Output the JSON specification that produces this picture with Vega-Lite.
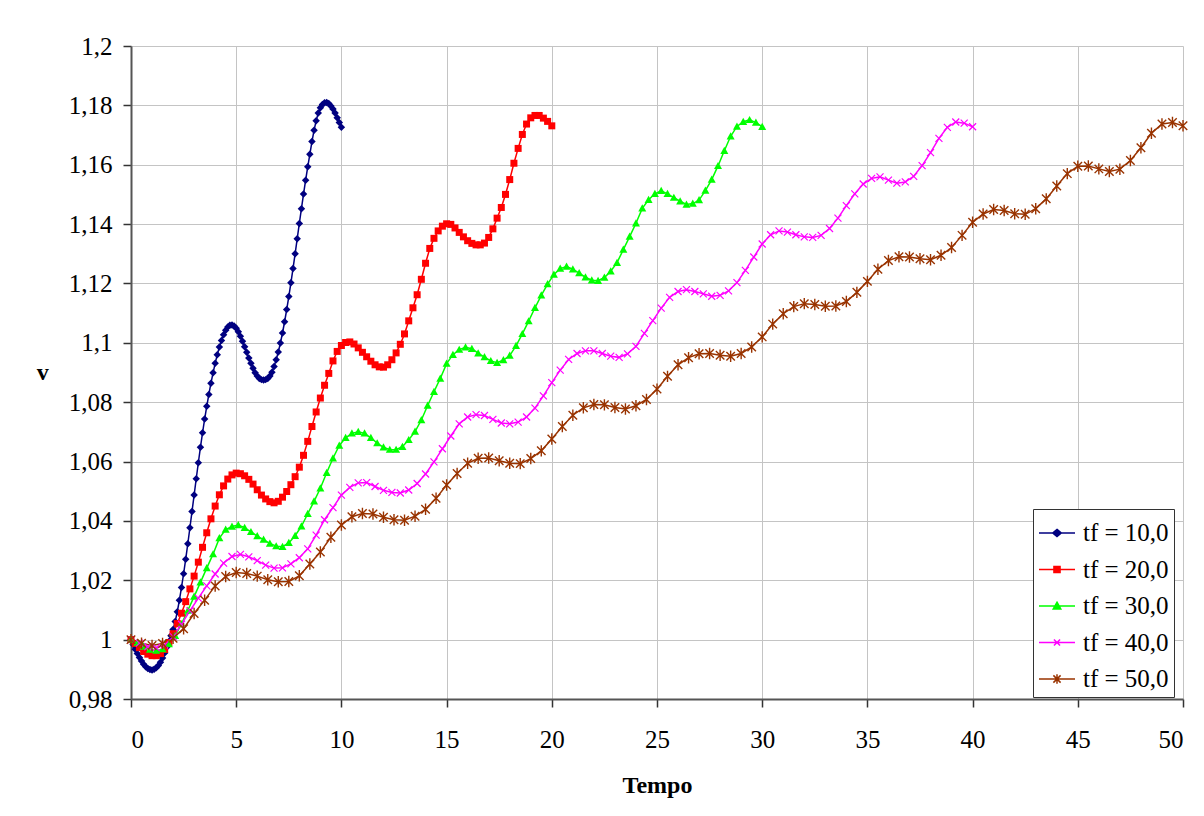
{
  "$schema": "https://vega.github.io/schema/vega-lite/v6.json",
  "width": 1052,
  "height": 653,
  "autosize": {"type": "none"},
  "padding": {"left": 131, "top": 46, "right": 21, "bottom": 117},
  "background": "white",
  "config": {
    "view": {"stroke": null},
    "font": "Liberation Serif",
    "axis": {
      "domainColor": "#555555", "domainWidth": 2, "tickColor": "#333333", "tickSize": 8, "tickWidth": 1.5,
      "gridColor": "#c4c4c4", "gridWidth": 1, "labelFont": "Liberation Serif", "labelFontSize": 25, "labelColor": "black",
      "titleFont": "Liberation Serif", "titleFontSize": 24, "titleFontWeight": "bold", "titleColor": "black"
    },
    "axisX": {"labelPadding": 20, "titlePadding": 21},
    "axisY": {"labelPadding": 11, "titlePadding": 20, "titleAngle": 0, "titleAlign": "right", "titleBaseline": "middle"}
  },
  "data": {
    "values": [
      {"k":10,"t":0,"v":1.0000},{"k":10,"t":0.1,"v":0.9984},{"k":10,"t":0.2,"v":0.9968},{"k":10,"t":0.3,"v":0.9953},{"k":10,"t":0.4,"v":0.9940},
      {"k":10,"t":0.5,"v":0.9928},{"k":10,"t":0.6,"v":0.9917},{"k":10,"t":0.7,"v":0.9909},{"k":10,"t":0.8,"v":0.9903},{"k":10,"t":0.9,"v":0.9899},
      {"k":10,"t":1.0,"v":0.9898},{"k":10,"t":1.1,"v":0.9900},{"k":10,"t":1.2,"v":0.9905},{"k":10,"t":1.3,"v":0.9913},{"k":10,"t":1.4,"v":0.9924},
      {"k":10,"t":1.5,"v":0.9938},{"k":10,"t":1.6,"v":0.9955},{"k":10,"t":1.7,"v":0.9974},{"k":10,"t":1.8,"v":0.9994},{"k":10,"t":1.9,"v":1.0013},
      {"k":10,"t":2.0,"v":1.0034},{"k":10,"t":2.1,"v":1.0061},{"k":10,"t":2.2,"v":1.0094},{"k":10,"t":2.3,"v":1.0133},{"k":10,"t":2.4,"v":1.0176},
      {"k":10,"t":2.5,"v":1.0222},{"k":10,"t":2.6,"v":1.0271},{"k":10,"t":2.7,"v":1.0323},{"k":10,"t":2.8,"v":1.0377},{"k":10,"t":2.9,"v":1.0432},
      {"k":10,"t":3.0,"v":1.0487},{"k":10,"t":3.1,"v":1.0542},{"k":10,"t":3.2,"v":1.0596},{"k":10,"t":3.3,"v":1.0648},{"k":10,"t":3.4,"v":1.0697},
      {"k":10,"t":3.5,"v":1.0743},{"k":10,"t":3.6,"v":1.0786},{"k":10,"t":3.7,"v":1.0826},{"k":10,"t":3.8,"v":1.0864},{"k":10,"t":3.9,"v":1.0899},
      {"k":10,"t":4.0,"v":1.0931},{"k":10,"t":4.1,"v":1.0960},{"k":10,"t":4.2,"v":1.0986},{"k":10,"t":4.3,"v":1.1008},{"k":10,"t":4.4,"v":1.1027},
      {"k":10,"t":4.5,"v":1.1042},{"k":10,"t":4.6,"v":1.1053},{"k":10,"t":4.7,"v":1.1059},{"k":10,"t":4.8,"v":1.1060},{"k":10,"t":4.9,"v":1.1057},
      {"k":10,"t":5.0,"v":1.1049},{"k":10,"t":5.1,"v":1.1037},{"k":10,"t":5.2,"v":1.1022},{"k":10,"t":5.3,"v":1.1005},{"k":10,"t":5.4,"v":1.0987},
      {"k":10,"t":5.5,"v":1.0968},{"k":10,"t":5.6,"v":1.0949},{"k":10,"t":5.7,"v":1.0931},{"k":10,"t":5.8,"v":1.0914},{"k":10,"t":5.9,"v":1.0899},
      {"k":10,"t":6.0,"v":1.0888},{"k":10,"t":6.1,"v":1.0880},{"k":10,"t":6.2,"v":1.0876},{"k":10,"t":6.3,"v":1.0875},{"k":10,"t":6.4,"v":1.0876},
      {"k":10,"t":6.5,"v":1.0880},{"k":10,"t":6.6,"v":1.0888},{"k":10,"t":6.7,"v":1.0901},{"k":10,"t":6.8,"v":1.0920},{"k":10,"t":6.9,"v":1.0943},
      {"k":10,"t":7.0,"v":1.0969},{"k":10,"t":7.1,"v":1.0999},{"k":10,"t":7.2,"v":1.1033},{"k":10,"t":7.3,"v":1.1071},{"k":10,"t":7.4,"v":1.1112},
      {"k":10,"t":7.5,"v":1.1156},{"k":10,"t":7.6,"v":1.1202},{"k":10,"t":7.7,"v":1.1250},{"k":10,"t":7.8,"v":1.1300},{"k":10,"t":7.9,"v":1.1351},
      {"k":10,"t":8.0,"v":1.1402},{"k":10,"t":8.1,"v":1.1452},{"k":10,"t":8.2,"v":1.1501},{"k":10,"t":8.3,"v":1.1548},{"k":10,"t":8.4,"v":1.1593},
      {"k":10,"t":8.5,"v":1.1635},{"k":10,"t":8.6,"v":1.1678},{"k":10,"t":8.7,"v":1.1716},{"k":10,"t":8.8,"v":1.1748},{"k":10,"t":8.9,"v":1.1774},
      {"k":10,"t":9.0,"v":1.1792},{"k":10,"t":9.1,"v":1.1803},{"k":10,"t":9.2,"v":1.1809},{"k":10,"t":9.3,"v":1.1810},{"k":10,"t":9.4,"v":1.1806},
      {"k":10,"t":9.5,"v":1.1798},{"k":10,"t":9.6,"v":1.1788},{"k":10,"t":9.7,"v":1.1774},{"k":10,"t":9.8,"v":1.1758},{"k":10,"t":9.9,"v":1.1742},
      {"k":10,"t":10.0,"v":1.1726},

      {"k":20,"t":0,"v":1.0000},{"k":20,"t":0.2,"v":0.9987},{"k":20,"t":0.4,"v":0.9973},{"k":20,"t":0.6,"v":0.9960},{"k":20,"t":0.8,"v":0.9951},
      {"k":20,"t":1.0,"v":0.9946},{"k":20,"t":1.2,"v":0.9946},{"k":20,"t":1.4,"v":0.9953},{"k":20,"t":1.6,"v":0.9967},{"k":20,"t":1.8,"v":0.9990},
      {"k":20,"t":2.0,"v":1.0020},{"k":20,"t":2.2,"v":1.0054},{"k":20,"t":2.4,"v":1.0089},{"k":20,"t":2.6,"v":1.0128},{"k":20,"t":2.8,"v":1.0171},
      {"k":20,"t":3.0,"v":1.0214},{"k":20,"t":3.2,"v":1.0261},{"k":20,"t":3.4,"v":1.0311},{"k":20,"t":3.6,"v":1.0360},{"k":20,"t":3.8,"v":1.0407},
      {"k":20,"t":4.0,"v":1.0450},{"k":20,"t":4.2,"v":1.0488},{"k":20,"t":4.4,"v":1.0518},{"k":20,"t":4.6,"v":1.0541},{"k":20,"t":4.8,"v":1.0555},
      {"k":20,"t":5.0,"v":1.0561},{"k":20,"t":5.2,"v":1.0559},{"k":20,"t":5.4,"v":1.0552},{"k":20,"t":5.6,"v":1.0540},{"k":20,"t":5.8,"v":1.0524},
      {"k":20,"t":6.0,"v":1.0505},{"k":20,"t":6.2,"v":1.0487},{"k":20,"t":6.4,"v":1.0474},{"k":20,"t":6.6,"v":1.0465},{"k":20,"t":6.8,"v":1.0461},
      {"k":20,"t":7.0,"v":1.0466},{"k":20,"t":7.2,"v":1.0480},{"k":20,"t":7.4,"v":1.0499},{"k":20,"t":7.6,"v":1.0522},{"k":20,"t":7.8,"v":1.0549},
      {"k":20,"t":8.0,"v":1.0581},{"k":20,"t":8.2,"v":1.0621},{"k":20,"t":8.4,"v":1.0668},{"k":20,"t":8.6,"v":1.0718},{"k":20,"t":8.8,"v":1.0767},
      {"k":20,"t":9.0,"v":1.0814},{"k":20,"t":9.2,"v":1.0857},{"k":20,"t":9.4,"v":1.0897},{"k":20,"t":9.6,"v":1.0939},{"k":20,"t":9.8,"v":1.0971},
      {"k":20,"t":10.0,"v":1.0991},{"k":20,"t":10.2,"v":1.1001},{"k":20,"t":10.4,"v":1.1003},{"k":20,"t":10.6,"v":1.0996},{"k":20,"t":10.8,"v":1.0983},
      {"k":20,"t":11.0,"v":1.0968},{"k":20,"t":11.2,"v":1.0953},{"k":20,"t":11.4,"v":1.0938},{"k":20,"t":11.6,"v":1.0926},{"k":20,"t":11.8,"v":1.0919},
      {"k":20,"t":12.0,"v":1.0918},{"k":20,"t":12.2,"v":1.0926},{"k":20,"t":12.4,"v":1.0943},{"k":20,"t":12.6,"v":1.0966},{"k":20,"t":12.8,"v":1.0995},
      {"k":20,"t":13.0,"v":1.1030},{"k":20,"t":13.2,"v":1.1074},{"k":20,"t":13.4,"v":1.1118},{"k":20,"t":13.6,"v":1.1162},{"k":20,"t":13.8,"v":1.1214},
      {"k":20,"t":14.0,"v":1.1268},{"k":20,"t":14.2,"v":1.1318},{"k":20,"t":14.4,"v":1.1352},{"k":20,"t":14.6,"v":1.1377},{"k":20,"t":14.8,"v":1.1393},
      {"k":20,"t":15.0,"v":1.1401},{"k":20,"t":15.2,"v":1.1399},{"k":20,"t":15.4,"v":1.1387},{"k":20,"t":15.6,"v":1.1372},{"k":20,"t":15.8,"v":1.1357},
      {"k":20,"t":16.0,"v":1.1344},{"k":20,"t":16.2,"v":1.1335},{"k":20,"t":16.4,"v":1.1330},{"k":20,"t":16.6,"v":1.1330},{"k":20,"t":16.8,"v":1.1336},
      {"k":20,"t":17.0,"v":1.1355},{"k":20,"t":17.2,"v":1.1384},{"k":20,"t":17.4,"v":1.1420},{"k":20,"t":17.6,"v":1.1456},{"k":20,"t":17.8,"v":1.1500},
      {"k":20,"t":18.0,"v":1.1550},{"k":20,"t":18.2,"v":1.1605},{"k":20,"t":18.4,"v":1.1655},{"k":20,"t":18.6,"v":1.1702},{"k":20,"t":18.8,"v":1.1737},
      {"k":20,"t":19.0,"v":1.1758},{"k":20,"t":19.2,"v":1.1766},{"k":20,"t":19.4,"v":1.1766},{"k":20,"t":19.6,"v":1.1757},{"k":20,"t":19.8,"v":1.1746},
      {"k":20,"t":20.0,"v":1.1731},

      {"k":30,"t":0,"v":1.0000},{"k":30,"t":0.3,"v":0.9990},{"k":30,"t":0.6,"v":0.9977},{"k":30,"t":0.9,"v":0.9967},{"k":30,"t":1.2,"v":0.9963},
      {"k":30,"t":1.5,"v":0.9968},{"k":30,"t":1.8,"v":0.9985},{"k":30,"t":2.1,"v":1.0013},{"k":30,"t":2.4,"v":1.0053},{"k":30,"t":2.7,"v":1.0098},
      {"k":30,"t":3.0,"v":1.0145},{"k":30,"t":3.3,"v":1.0193},{"k":30,"t":3.6,"v":1.0241},{"k":30,"t":3.9,"v":1.0288},{"k":30,"t":4.2,"v":1.0342},
      {"k":30,"t":4.5,"v":1.0371},{"k":30,"t":4.8,"v":1.0381},{"k":30,"t":5.1,"v":1.0386},{"k":30,"t":5.4,"v":1.0377},{"k":30,"t":5.7,"v":1.0363},
      {"k":30,"t":6.0,"v":1.0349},{"k":30,"t":6.3,"v":1.0337},{"k":30,"t":6.6,"v":1.0324},{"k":30,"t":6.9,"v":1.0315},{"k":30,"t":7.2,"v":1.0313},
      {"k":30,"t":7.5,"v":1.0326},{"k":30,"t":7.8,"v":1.0350},{"k":30,"t":8.1,"v":1.0382},{"k":30,"t":8.4,"v":1.0424},{"k":30,"t":8.7,"v":1.0466},
      {"k":30,"t":9.0,"v":1.0510},{"k":30,"t":9.3,"v":1.0562},{"k":30,"t":9.6,"v":1.0611},{"k":30,"t":9.9,"v":1.0654},{"k":30,"t":10.2,"v":1.0680},
      {"k":30,"t":10.5,"v":1.0695},{"k":30,"t":10.8,"v":1.0700},{"k":30,"t":11.1,"v":1.0695},{"k":30,"t":11.4,"v":1.0680},{"k":30,"t":11.7,"v":1.0662},
      {"k":30,"t":12.0,"v":1.0648},{"k":30,"t":12.3,"v":1.0640},{"k":30,"t":12.6,"v":1.0640},{"k":30,"t":12.9,"v":1.0650},{"k":30,"t":13.2,"v":1.0673},
      {"k":30,"t":13.5,"v":1.0701},{"k":30,"t":13.8,"v":1.0740},{"k":30,"t":14.1,"v":1.0789},{"k":30,"t":14.4,"v":1.0835},{"k":30,"t":14.7,"v":1.0880},
      {"k":30,"t":15.0,"v":1.0930},{"k":30,"t":15.3,"v":1.0960},{"k":30,"t":15.6,"v":1.0977},{"k":30,"t":15.9,"v":1.0985},{"k":30,"t":16.2,"v":1.0980},
      {"k":30,"t":16.5,"v":1.0965},{"k":30,"t":16.8,"v":1.0952},{"k":30,"t":17.1,"v":1.0939},{"k":30,"t":17.4,"v":1.0933},{"k":30,"t":17.7,"v":1.0942},
      {"k":30,"t":18.0,"v":1.0957},{"k":30,"t":18.3,"v":1.0990},{"k":30,"t":18.6,"v":1.1030},{"k":30,"t":18.9,"v":1.1073},{"k":30,"t":19.2,"v":1.1118},
      {"k":30,"t":19.5,"v":1.1160},{"k":30,"t":19.8,"v":1.1198},{"k":30,"t":20.1,"v":1.1230},{"k":30,"t":20.4,"v":1.1250},{"k":30,"t":20.7,"v":1.1257},
      {"k":30,"t":21.0,"v":1.1248},{"k":30,"t":21.3,"v":1.1235},{"k":30,"t":21.6,"v":1.1221},{"k":30,"t":21.9,"v":1.1211},{"k":30,"t":22.2,"v":1.1209},
      {"k":30,"t":22.5,"v":1.1220},{"k":30,"t":22.8,"v":1.1241},{"k":30,"t":23.1,"v":1.1270},{"k":30,"t":23.4,"v":1.1314},{"k":30,"t":23.7,"v":1.1358},
      {"k":30,"t":24.0,"v":1.1403},{"k":30,"t":24.3,"v":1.1453},{"k":30,"t":24.6,"v":1.1482},{"k":30,"t":24.9,"v":1.1502},{"k":30,"t":25.2,"v":1.1512},
      {"k":30,"t":25.5,"v":1.1502},{"k":30,"t":25.8,"v":1.1489},{"k":30,"t":26.1,"v":1.1477},{"k":30,"t":26.4,"v":1.1466},{"k":30,"t":26.7,"v":1.1469},
      {"k":30,"t":27.0,"v":1.1481},{"k":30,"t":27.3,"v":1.1513},{"k":30,"t":27.6,"v":1.1550},{"k":30,"t":27.9,"v":1.1596},{"k":30,"t":28.2,"v":1.1647},
      {"k":30,"t":28.5,"v":1.1696},{"k":30,"t":28.8,"v":1.1729},{"k":30,"t":29.1,"v":1.1745},{"k":30,"t":29.4,"v":1.1751},{"k":30,"t":29.7,"v":1.1742},
      {"k":30,"t":30.0,"v":1.1728},

      {"k":40,"t":0,"v":1.0000},{"k":40,"t":0.4,"v":0.9988},{"k":40,"t":0.8,"v":0.9976},{"k":40,"t":1.2,"v":0.9973},{"k":40,"t":1.6,"v":0.9982},
      {"k":40,"t":2.0,"v":1.0010},{"k":40,"t":2.4,"v":1.0052},{"k":40,"t":2.8,"v":1.0097},{"k":40,"t":3.2,"v":1.0140},{"k":40,"t":3.6,"v":1.0181},
      {"k":40,"t":4.0,"v":1.0221},{"k":40,"t":4.4,"v":1.0258},{"k":40,"t":4.8,"v":1.0280},{"k":40,"t":5.2,"v":1.0287},{"k":40,"t":5.6,"v":1.0279},
      {"k":40,"t":6.0,"v":1.0266},{"k":40,"t":6.4,"v":1.0251},{"k":40,"t":6.8,"v":1.0241},{"k":40,"t":7.2,"v":1.0242},{"k":40,"t":7.6,"v":1.0255},
      {"k":40,"t":8.0,"v":1.0276},{"k":40,"t":8.4,"v":1.0306},{"k":40,"t":8.8,"v":1.0352},{"k":40,"t":9.2,"v":1.0404},{"k":40,"t":9.6,"v":1.0445},
      {"k":40,"t":10.0,"v":1.0487},{"k":40,"t":10.4,"v":1.0513},{"k":40,"t":10.8,"v":1.0528},{"k":40,"t":11.2,"v":1.0529},{"k":40,"t":11.6,"v":1.0516},
      {"k":40,"t":12.0,"v":1.0503},{"k":40,"t":12.4,"v":1.0496},{"k":40,"t":12.8,"v":1.0494},{"k":40,"t":13.2,"v":1.0504},{"k":40,"t":13.6,"v":1.0526},
      {"k":40,"t":14.0,"v":1.0558},{"k":40,"t":14.4,"v":1.0599},{"k":40,"t":14.8,"v":1.0643},{"k":40,"t":15.2,"v":1.0686},{"k":40,"t":15.6,"v":1.0727},
      {"k":40,"t":16.0,"v":1.0750},{"k":40,"t":16.4,"v":1.0758},{"k":40,"t":16.8,"v":1.0755},{"k":40,"t":17.2,"v":1.0742},{"k":40,"t":17.6,"v":1.0730},
      {"k":40,"t":18.0,"v":1.0727},{"k":40,"t":18.4,"v":1.0733},{"k":40,"t":18.8,"v":1.0750},{"k":40,"t":19.2,"v":1.0780},{"k":40,"t":19.6,"v":1.0821},
      {"k":40,"t":20.0,"v":1.0866},{"k":40,"t":20.4,"v":1.0908},{"k":40,"t":20.8,"v":1.0944},{"k":40,"t":21.2,"v":1.0964},{"k":40,"t":21.6,"v":1.0973},
      {"k":40,"t":22.0,"v":1.0973},{"k":40,"t":22.4,"v":1.0964},{"k":40,"t":22.8,"v":1.0955},{"k":40,"t":23.2,"v":1.0951},{"k":40,"t":23.6,"v":1.0963},
      {"k":40,"t":24.0,"v":1.0988},{"k":40,"t":24.4,"v":1.1032},{"k":40,"t":24.8,"v":1.1075},{"k":40,"t":25.2,"v":1.1117},{"k":40,"t":25.6,"v":1.1153},
      {"k":40,"t":26.0,"v":1.1173},{"k":40,"t":26.4,"v":1.1179},{"k":40,"t":26.8,"v":1.1173},{"k":40,"t":27.2,"v":1.1165},{"k":40,"t":27.6,"v":1.1157},
      {"k":40,"t":28.0,"v":1.1160},{"k":40,"t":28.4,"v":1.1175},{"k":40,"t":28.8,"v":1.1203},{"k":40,"t":29.2,"v":1.1244},{"k":40,"t":29.6,"v":1.1289},
      {"k":40,"t":30.0,"v":1.1333},{"k":40,"t":30.4,"v":1.1364},{"k":40,"t":30.8,"v":1.1377},{"k":40,"t":31.2,"v":1.1373},{"k":40,"t":31.6,"v":1.1364},
      {"k":40,"t":32.0,"v":1.1357},{"k":40,"t":32.4,"v":1.1355},{"k":40,"t":32.8,"v":1.1362},{"k":40,"t":33.2,"v":1.1385},{"k":40,"t":33.6,"v":1.1420},
      {"k":40,"t":34.0,"v":1.1462},{"k":40,"t":34.4,"v":1.1502},{"k":40,"t":34.8,"v":1.1535},{"k":40,"t":35.2,"v":1.1554},{"k":40,"t":35.6,"v":1.1559},
      {"k":40,"t":36.0,"v":1.1548},{"k":40,"t":36.4,"v":1.1538},{"k":40,"t":36.8,"v":1.1542},{"k":40,"t":37.2,"v":1.1561},{"k":40,"t":37.6,"v":1.1597},
      {"k":40,"t":38.0,"v":1.1641},{"k":40,"t":38.4,"v":1.1689},{"k":40,"t":38.8,"v":1.1726},{"k":40,"t":39.2,"v":1.1744},{"k":40,"t":39.6,"v":1.1740},
      {"k":40,"t":40.0,"v":1.1728},

      {"k":50,"t":0,"v":1.0000},{"k":50,"t":0.5,"v":0.9988},{"k":50,"t":1.0,"v":0.9980},{"k":50,"t":1.5,"v":0.9987},{"k":50,"t":2.0,"v":1.0005},
      {"k":50,"t":2.5,"v":1.0037},{"k":50,"t":3.0,"v":1.0088},{"k":50,"t":3.5,"v":1.0133},{"k":50,"t":4.0,"v":1.0181},{"k":50,"t":4.5,"v":1.0213},
      {"k":50,"t":5.0,"v":1.0226},{"k":50,"t":5.5,"v":1.0223},{"k":50,"t":6.0,"v":1.0214},{"k":50,"t":6.5,"v":1.0202},{"k":50,"t":7.0,"v":1.0195},
      {"k":50,"t":7.5,"v":1.0196},{"k":50,"t":8.0,"v":1.0215},{"k":50,"t":8.5,"v":1.0255},{"k":50,"t":9.0,"v":1.0295},{"k":50,"t":9.5,"v":1.0345},
      {"k":50,"t":10.0,"v":1.0386},{"k":50,"t":10.5,"v":1.0414},{"k":50,"t":11.0,"v":1.0425},{"k":50,"t":11.5,"v":1.0423},{"k":50,"t":12.0,"v":1.0412},
      {"k":50,"t":12.5,"v":1.0404},{"k":50,"t":13.0,"v":1.0402},{"k":50,"t":13.5,"v":1.0416},{"k":50,"t":14.0,"v":1.0439},{"k":50,"t":14.5,"v":1.0476},
      {"k":50,"t":15.0,"v":1.0521},{"k":50,"t":15.5,"v":1.0560},{"k":50,"t":16.0,"v":1.0594},{"k":50,"t":16.5,"v":1.0611},{"k":50,"t":17.0,"v":1.0612},
      {"k":50,"t":17.5,"v":1.0603},{"k":50,"t":18.0,"v":1.0594},{"k":50,"t":18.5,"v":1.0593},{"k":50,"t":19.0,"v":1.0610},{"k":50,"t":19.5,"v":1.0636},
      {"k":50,"t":20.0,"v":1.0676},{"k":50,"t":20.5,"v":1.0718},{"k":50,"t":21.0,"v":1.0756},{"k":50,"t":21.5,"v":1.0781},{"k":50,"t":22.0,"v":1.0792},
      {"k":50,"t":22.5,"v":1.0791},{"k":50,"t":23.0,"v":1.0782},{"k":50,"t":23.5,"v":1.0777},{"k":50,"t":24.0,"v":1.0788},{"k":50,"t":24.5,"v":1.0809},
      {"k":50,"t":25.0,"v":1.0844},{"k":50,"t":25.5,"v":1.0887},{"k":50,"t":26.0,"v":1.0926},{"k":50,"t":26.5,"v":1.0950},{"k":50,"t":27.0,"v":1.0963},
      {"k":50,"t":27.5,"v":1.0964},{"k":50,"t":28.0,"v":1.0958},{"k":50,"t":28.5,"v":1.0955},{"k":50,"t":29.0,"v":1.0964},{"k":50,"t":29.5,"v":1.0986},
      {"k":50,"t":30.0,"v":1.1020},{"k":50,"t":30.5,"v":1.1063},{"k":50,"t":31.0,"v":1.1098},{"k":50,"t":31.5,"v":1.1122},{"k":50,"t":32.0,"v":1.1132},
      {"k":50,"t":32.5,"v":1.1129},{"k":50,"t":33.0,"v":1.1123},{"k":50,"t":33.5,"v":1.1124},{"k":50,"t":34.0,"v":1.1139},{"k":50,"t":34.5,"v":1.1170},
      {"k":50,"t":35.0,"v":1.1207},{"k":50,"t":35.5,"v":1.1248},{"k":50,"t":36.0,"v":1.1277},{"k":50,"t":36.5,"v":1.1290},{"k":50,"t":37.0,"v":1.1289},
      {"k":50,"t":37.5,"v":1.1283},{"k":50,"t":38.0,"v":1.1280},{"k":50,"t":38.5,"v":1.1295},{"k":50,"t":39.0,"v":1.1321},{"k":50,"t":39.5,"v":1.1362},
      {"k":50,"t":40.0,"v":1.1406},{"k":50,"t":40.5,"v":1.1434},{"k":50,"t":41.0,"v":1.1449},{"k":50,"t":41.5,"v":1.1446},{"k":50,"t":42.0,"v":1.1435},
      {"k":50,"t":42.5,"v":1.1433},{"k":50,"t":43.0,"v":1.1452},{"k":50,"t":43.5,"v":1.1485},{"k":50,"t":44.0,"v":1.1528},{"k":50,"t":44.5,"v":1.1570},
      {"k":50,"t":45.0,"v":1.1595},{"k":50,"t":45.5,"v":1.1596},{"k":50,"t":46.0,"v":1.1586},{"k":50,"t":46.5,"v":1.1577},{"k":50,"t":47.0,"v":1.1585},
      {"k":50,"t":47.5,"v":1.1614},{"k":50,"t":48.0,"v":1.1657},{"k":50,"t":48.5,"v":1.1706},{"k":50,"t":49.0,"v":1.1737},{"k":50,"t":49.5,"v":1.1742},
      {"k":50,"t":50.0,"v":1.1731}
    ]
  },
  "encoding": {
    "x": {"field": "t", "type": "quantitative", "scale": {"domain": [0, 50], "nice": false, "zero": false},
      "axis": {"values": [0, 5, 10, 15, 20, 25, 30, 35, 40, 45, 50], "format": "d", "title": "Tempo"}},
    "y": {"field": "v", "type": "quantitative", "scale": {"domain": [0.98, 1.2], "nice": false, "zero": false},
      "axis": {"values": [0.98, 1, 1.02, 1.04, 1.06, 1.08, 1.1, 1.12, 1.14, 1.16, 1.18, 1.2],
        "labelExpr": "replace(format(datum.value, '.2~f'), '.', ',')", "title": "v"}}
  },
  "layer": [
    {
      "mark": {"type": "line", "strokeWidth": 1.5},
      "encoding": {
        "color": {"field": "k", "type": "nominal",
          "scale": {"range": ["#000080", "#ff0000", "#00ff00", "#ff00ff", "#993300"]},
          "legend": null}
      }
    },
    {
      "transform": [{"filter": "datum.k == 10"}],
      "mark": {"type": "point", "shape": "M0,-1L1,0L0,1L-1,0Z", "size": 56, "filled": true, "opacity": 1},
      "encoding": {"color": {"field": "k", "type": "nominal", "legend": null}}
    },
    {
      "transform": [{"filter": "datum.k == 20"}],
      "mark": {"type": "point", "shape": "square", "size": 49, "filled": true, "opacity": 1},
      "encoding": {"color": {"field": "k", "type": "nominal", "legend": null}}
    },
    {
      "transform": [{"filter": "datum.k == 30"}],
      "mark": {"type": "point", "shape": "M0,-1L1,0.8L-1,0.8Z", "size": 64, "filled": true, "opacity": 1},
      "encoding": {"color": {"field": "k", "type": "nominal", "legend": null}}
    },
    {
      "transform": [{"filter": "datum.k == 40"}],
      "mark": {"type": "point", "shape": "M-1,-1L1,1M-1,1L1,-1", "size": 49, "filled": false, "strokeWidth": 1.2, "opacity": 1},
      "encoding": {"color": {"field": "k", "type": "nominal", "legend": null}}
    },
    {
      "transform": [{"filter": "datum.k == 50"}],
      "mark": {"type": "point", "shape": "M-1,-1L1,1M-1,1L1,-1M0,-1.35L0,1.35", "size": 72, "filled": false, "strokeWidth": 1.4, "opacity": 1},
      "encoding": {"color": {"field": "k", "type": "nominal", "legend": null}}
    },
    {
      "mark": {"type": "point", "filled": false, "size": 1296, "strokeWidth": 1.5, "opacity": 0},
      "encoding": {
        "stroke": {"field": "k", "type": "nominal",
          "scale": {"domain": [10, 20, 30, 40, 50], "range": ["#000080", "#ff0000", "#00ff00", "#ff00ff", "#993300"]},
          "legend": {"title": null, "orient": "none", "legendX": 902, "legendY": 463, "symbolSize": 1296, "symbolStrokeWidth": 1.5,
            "symbolOpacity": 1, "labelFont": "Liberation Serif", "labelFontSize": 25, "labelColor": "black", "labelOffset": 7,
            "labelExpr": "'tf = ' + datum.label + ',0'", "strokeColor": "#333333", "fillColor": "white", "padding": 5, "rowPadding": 4.5}},
        "shape": {"field": "k", "type": "nominal",
          "scale": {"domain": [10, 20, 30, 40, 50], "range": [
            "M-1,0L1,0M0,-0.2L0.24,0L0,0.2L-0.24,0ZM0,-0.1L0.12,0L0,0.1L-0.12,0Z",
            "M-1,0L1,0M-0.17,-0.17L0.17,-0.17L0.17,0.17L-0.17,0.17ZM-0.09,-0.09L0.09,-0.09L0.09,0.09L-0.09,0.09Z",
            "M-1,0L1,0M0,-0.21L0.21,0.16L-0.21,0.16ZM0,-0.09L0.09,0.08L-0.09,0.08Z",
            "M-1,0L1,0M-0.17,-0.17L0.17,0.17M-0.17,0.17L0.17,-0.17",
            "M-1,0L1,0M-0.2,-0.2L0.2,0.2M-0.2,0.2L0.2,-0.2M0,-0.26L0,0.26"
          ]},
          "legend": {"title": null, "orient": "none", "legendX": 902, "legendY": 463, "symbolSize": 1296, "symbolStrokeWidth": 1.5,
            "symbolOpacity": 1, "labelFont": "Liberation Serif", "labelFontSize": 25, "labelColor": "black", "labelOffset": 7,
            "labelExpr": "'tf = ' + datum.label + ',0'", "strokeColor": "#333333", "fillColor": "white", "padding": 5, "rowPadding": 4.5}}
      }
    }
  ]
}
